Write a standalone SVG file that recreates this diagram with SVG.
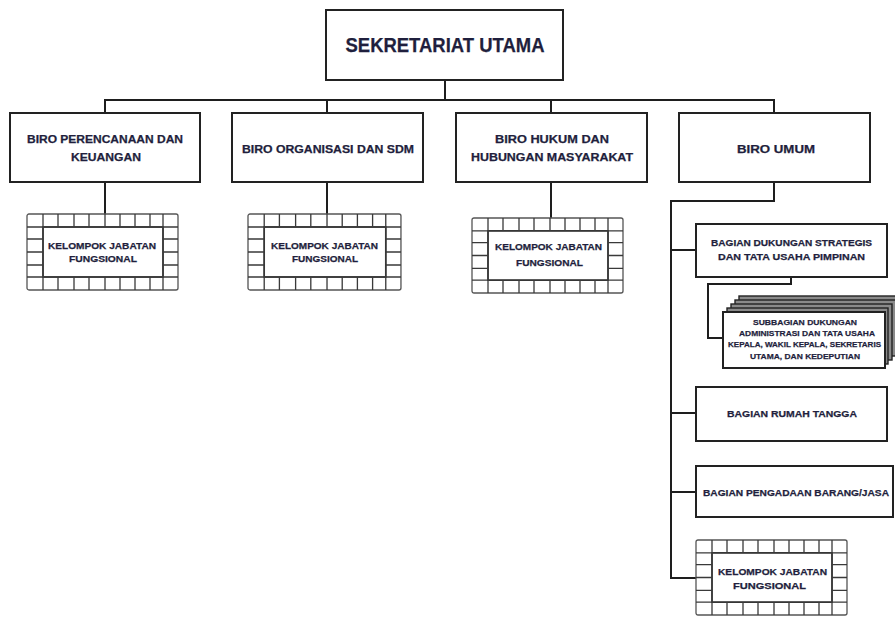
<svg xmlns="http://www.w3.org/2000/svg" xmlns:xlink="http://www.w3.org/1999/xlink" width="895" height="617" viewBox="0 0 895 617">
<style>
.box{fill:#fff;stroke:#222;stroke-width:2}
.layer{fill:#8a8a8a;stroke:#222;stroke-width:1.4}
.gline{fill:none;stroke:#3a3a3a;stroke-width:1.3}
.conn{fill:none;stroke:#1e1e1e;stroke-width:2;stroke-linejoin:miter}
text{font-family:"Liberation Sans",Arial,sans-serif;font-weight:bold;fill:#1f1f3d;stroke:#1f1f3d;stroke-width:0.25;text-anchor:middle}
.t20{font-size:20px}
.t11{font-size:11px}
.t9{font-size:9px}
.t8{font-size:8px}
</style>
<defs>
<g id="grid">
<rect x="0" y="0" width="151" height="76" rx="2" fill="#fff" stroke="#555" stroke-width="1.3"/>
<rect x="16" y="13" width="120" height="50" fill="#fff" stroke="#2a2a2a" stroke-width="1.6"/>
<path class="gline" d="M0 13H151M0 63H151M16 0V76M136 0V76
M31 0V13M47 0V13M62 0V13M78 0V13M93 0V13M108 0V13M123 0V13
M31 63V76M47 63V76M62 63V76M78 63V76M93 63V76M108 63V76M123 63V76
M0 25H16M0 38H16M0 51H16M136 25H151M136 38H151M136 51H151"/>
</g>
</defs>

<g id="connectors">
<path class="conn" d="M445 80V100" stroke-width="2.5"/>
<path class="conn" d="M105 113V100H774V113M327 100V113M551 100V113"/>
<path class="conn" d="M105 182V227M327 182V227M551 182V230"/>
<path class="conn" d="M774 182V201H671V578H696M671 250H696M671 413H696M671 492H696"/>
<path class="conn" d="M791 277V284H708V338H723"/>
</g>

<g id="sekretariat-utama">
<rect class="box" x="326" y="10" width="237" height="70"/>
<text class="t20" x="445" y="52" textLength="199" lengthAdjust="spacingAndGlyphs">SEKRETARIAT UTAMA</text>
</g>

<g id="biro-perencanaan">
<rect class="box" x="10" y="113" width="190" height="69"/>
<text class="t11" x="105" y="143" textLength="156" lengthAdjust="spacingAndGlyphs">BIRO PERENCANAAN DAN</text>
<text class="t11" x="106" y="161" textLength="70" lengthAdjust="spacingAndGlyphs">KEUANGAN</text>
</g>

<g id="biro-organisasi">
<rect class="box" x="232" y="113" width="191" height="69"/>
<text class="t11" x="328" y="153" textLength="172" lengthAdjust="spacingAndGlyphs">BIRO ORGANISASI DAN SDM</text>
</g>

<g id="biro-hukum">
<rect class="box" x="456" y="113" width="191" height="69"/>
<text class="t11" x="552" y="143" textLength="114" lengthAdjust="spacingAndGlyphs">BIRO HUKUM DAN</text>
<text class="t11" x="552" y="161" textLength="162" lengthAdjust="spacingAndGlyphs">HUBUNGAN MASYARAKAT</text>
</g>

<g id="biro-umum">
<rect class="box" x="679" y="113" width="191" height="69"/>
<text class="t11" x="776" y="153" textLength="78" lengthAdjust="spacingAndGlyphs">BIRO UMUM</text>
</g>

<g id="jf-perencanaan">
<use xlink:href="#grid" transform="translate(27,214)"/>
<text class="t9" x="102" y="249" textLength="108" lengthAdjust="spacingAndGlyphs">KELOMPOK JABATAN</text>
<text class="t9" x="103" y="262" textLength="68" lengthAdjust="spacingAndGlyphs">FUNGSIONAL</text>
</g>

<g id="jf-organisasi">
<use xlink:href="#grid" transform="translate(248,214) scale(1.013,1)"/>
<text class="t9" x="324.5" y="249" textLength="107" lengthAdjust="spacingAndGlyphs">KELOMPOK JABATAN</text>
<text class="t9" x="325" y="262" textLength="66" lengthAdjust="spacingAndGlyphs">FUNGSIONAL</text>
</g>

<g id="jf-hukum">
<use xlink:href="#grid" transform="translate(472,218) scale(1,0.987)"/>
<text class="t9" x="548.5" y="250" textLength="107" lengthAdjust="spacingAndGlyphs">KELOMPOK JABATAN</text>
<text class="t9" x="549.5" y="266" textLength="67" lengthAdjust="spacingAndGlyphs">FUNGSIONAL</text>
</g>

<g id="bagian-dukungan">
<rect class="box" x="696" y="224" width="191" height="53"/>
<text class="t9" x="791.5" y="246" textLength="161" lengthAdjust="spacingAndGlyphs">BAGIAN DUKUNGAN STRATEGIS</text>
<text class="t9" x="791.5" y="260" textLength="147" lengthAdjust="spacingAndGlyphs">DAN TATA USAHA PIMPINAN</text>
</g>

<g id="subbagian-dukungan">
<rect class="layer" x="739" y="296" width="161" height="56"/>
<rect class="layer" x="735" y="300" width="161" height="56"/>
<rect class="layer" x="731" y="304" width="161" height="56"/>
<rect class="layer" x="727" y="308" width="161" height="56"/>
<rect class="box" x="723" y="312" width="162" height="56"/>
<text class="t8" x="805" y="325" textLength="104" lengthAdjust="spacingAndGlyphs">SUBBAGIAN DUKUNGAN</text>
<text class="t8" x="807" y="335.5" textLength="136" lengthAdjust="spacingAndGlyphs">ADMINISTRASI DAN TATA USAHA</text>
<text class="t8" x="804.5" y="347" textLength="153" lengthAdjust="spacingAndGlyphs">KEPALA, WAKIL KEPALA, SEKRETARIS</text>
<text class="t8" x="805" y="359" textLength="110" lengthAdjust="spacingAndGlyphs">UTAMA, DAN KEDEPUTIAN</text>
</g>

<g id="bagian-rumah-tangga">
<rect class="box" x="696" y="387" width="191" height="54"/>
<text class="t9" x="792" y="416.5" textLength="130" lengthAdjust="spacingAndGlyphs">BAGIAN RUMAH TANGGA</text>
</g>

<g id="bagian-pengadaan">
<rect class="box" x="696" y="466" width="197" height="51"/>
<text class="t9" x="796" y="495.5" textLength="186" lengthAdjust="spacingAndGlyphs">BAGIAN PENGADAAN BARANG/JASA</text>
</g>

<g id="jf-umum">
<use xlink:href="#grid" transform="translate(696,540) scale(1,0.987)"/>
<text class="t9" x="772.5" y="575" textLength="109" lengthAdjust="spacingAndGlyphs">KELOMPOK JABATAN</text>
<text class="t9" x="769.5" y="588.5" textLength="73" lengthAdjust="spacingAndGlyphs">FUNGSIONAL</text>
</g>
</svg>
